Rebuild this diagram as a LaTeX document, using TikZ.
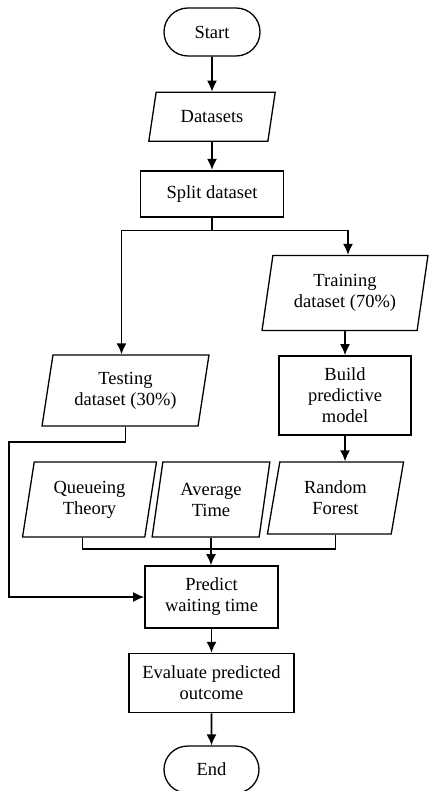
\documentclass[tikz,border=0pt]{standalone}
\usepackage{fontspec}
\setmainfont{Liberation Serif}
\usetikzlibrary{shapes.geometric,shapes.misc,arrows.meta,positioning}

\begin{document}
\begin{tikzpicture}[x=1pt, y=-1pt, >={Latex[length=11pt,width=10pt]}]
        \tikzset{
            txt/.style={font=\fontsize{18.5}{21}\selectfont, align=center, inner sep=2pt},
            term/.style={txt, draw, rounded rectangle, line width=1.3pt, minimum width=100pt, minimum height=48pt},
            proc/.style={txt, draw, rectangle, line width=1.6pt},
            data/.style={txt, draw, trapezium, trapezium left angle=79, trapezium right angle=101, trapezium stretches=true, line width=1.3pt, minimum height=75pt},
            line/.style={line width=1.6pt},
        }
        \useasboundingbox (0,0) rectangle (430,791);

        % Start
        \node [term] (start) at (212,32) {Start};

        % Input data
        \node [data, minimum width=127pt, minimum height=49pt, trapezium left angle=75, trapezium right angle=105, below=35pt of start] (ds) {Datasets};

        % Split
        \node [proc, minimum width=143pt, minimum height=46pt, below=28pt of ds] (split) {Split dataset};

        % Training and testing parts
        \node [data, minimum width=166pt] (train) at (345,293) {Training\\dataset (70\%)};
        \node [data, minimum width=167pt, minimum height=71pt] (test) at (125.5,390.5) {Testing\\dataset (30\%)};

        % Model
        \node [proc, minimum width=132pt, minimum height=79pt, below=24pt of train] (build) {Build\\predictive\\model};

        % Methods
        \node [data, minimum width=135pt] (qt) at (89.5,499.5) {Queueing\\Theory};
        \node [data, minimum width=118pt] (avg) at (211,499.5) {Average\\Time};
        \node [data, minimum width=137pt, minimum height=72pt] (rf) at (335.5,498) {Random\\Forest};

        % Prediction and evaluation
        \node [proc, minimum width=133pt, minimum height=62pt] (predict) at (211.5,597) {Predict\\waiting time};
        \node [proc, minimum width=165pt, minimum height=59pt, below=24pt of predict] (eval) {Evaluate predicted\\outcome};

        % End
        \node [term, minimum width=99pt, minimum height=47pt, below=32pt of eval] (stop) {End};

        % Helper points
        \coordinate (back) at (9,442);
        \coordinate (merge) at (211,549);

        % Connections
        \draw [->, line] (start) -- (ds);
        \draw [->, line] (ds) -- (split);
        \draw [->, line] (split.south) -- ++(0,13) -| ([xshift=3pt]train.north);
        \draw [->, line] (split.south) -- ++(0,13) -| ([xshift=-4pt]test.north);
        \draw [->, line] (train) -- (build);
        \draw [->, line] (test.south) |- (back) |- (predict.west);
        \draw [->, line] (build.south) -- (build.south |- rf.north);
        \draw [line] ([xshift=-7pt]qt.south) |- (merge) -| (rf.south);
        \draw [->, line] (avg.south) -- (avg.south |- predict.north);
        \draw [->, line] (predict) -- (eval);
        \draw [->, line] (eval) -- (stop);
    \end{tikzpicture}
\end{document}
